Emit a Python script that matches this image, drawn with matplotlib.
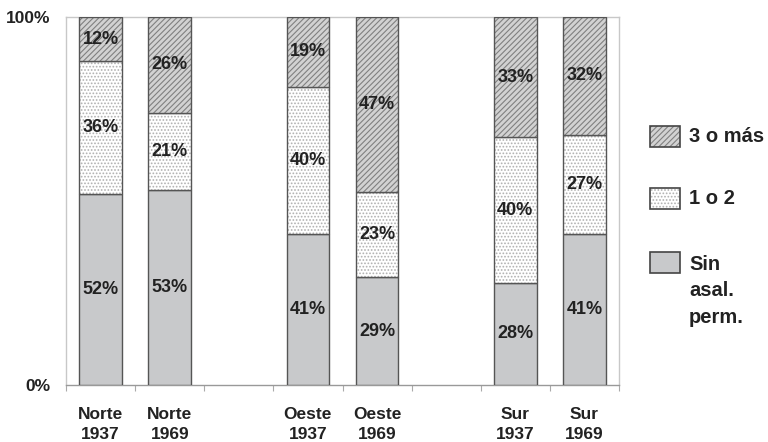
import numpy as np
import matplotlib
matplotlib.use("Agg")
import matplotlib.pyplot as plt
from matplotlib.patches import Rectangle

plt.rcParams['font.family'] = ['Liberation Sans', 'DejaVu Sans']
plt.rcParams['hatch.linewidth'] = 0.8

categories = ["Norte\n1937", "Norte\n1969", "Oeste\n1937", "Oeste\n1969", "Sur\n1937", "Sur\n1969"]
slots = [0, 1, 3, 4, 6, 7]
sin_asal = [52, 53, 41, 29, 28, 41]
uno_dos = [36, 21, 40, 23, 40, 27]
tres_mas = [12, 26, 19, 47, 33, 32]
series_names = ["Sin\nasal.\nperm.", "1 o 2", "3 o más"]
ytick_labels = ["0%", "100%"]

vals = np.array([sin_asal, uno_dos, tres_mas], dtype=float)
shares = vals / vals.sum(axis=0)

fig = plt.figure(figsize=(7.68, 4.42), dpi=100)
ax = fig.add_axes([66/768, 57/442, (619-66)/768, (385-17)/442])

edge = "#555555"
styles = [
    dict(facecolor="#c8c9cb", hatch=None, hc=None),
    dict(facecolor="white", hatch=".....", hc="#b0b0b0"),
    dict(facecolor="#d2d2d2", hatch="//////", hc="#808080"),
]
x = np.array(slots, dtype=float)
bottom = np.zeros(len(slots))
width = 0.62
for i in range(3):
    st = styles[i]
    bars = ax.bar(x, shares[i], width, bottom=bottom, facecolor=st["facecolor"],
                  edgecolor=edge, linewidth=1.0, hatch=st["hatch"], zorder=3)
    if st["hatch"]:
        for b in bars:
            b._hatch_color = matplotlib.colors.to_rgba(st["hc"])
    for j in range(len(slots)):
        ax.text(x[j], bottom[j] + shares[i][j] / 2, f"{int(vals[i][j])}%",
                ha="center", va="center", fontsize=13, fontweight="bold",
                color="#222222", zorder=5)
    bottom += shares[i]

ax.set_xlim(-0.5, 7.5)
ax.set_ylim(0, 1)
ax.set_yticks([0, 1])
ax.set_yticklabels(ytick_labels, fontsize=12.5, fontweight="bold", color="#222222")
ax.tick_params(axis="y", length=0, pad=11)
ax.set_xticks(np.arange(-0.5, 8.0, 1.0), minor=True)
ax.set_xticks(x)
ax.set_xticklabels(categories, fontsize=12.5, fontweight="bold", color="#222222", linespacing=1.4)
ax.tick_params(axis="x", which="major", length=0, pad=16)
ax.tick_params(axis="x", which="minor", length=4, color="#aaaaaa", width=0.8)

for s in ["left", "right", "top"]:
    ax.spines[s].set_color("#c8c8c8")
    ax.spines[s].set_linewidth(1.0)
ax.spines["bottom"].set_color("#999999")
ax.spines["bottom"].set_linewidth(1.0)

# manual legend
leg_items = [(2, 126), (1, 188), (0, 252)]
for idx, ytop in leg_items:
    st = styles[idx]
    r = Rectangle((650/768, 1 - (ytop + 21)/442), 30/768, 21/442,
                  transform=fig.transFigure, facecolor=st["facecolor"],
                  edgecolor="#444444", linewidth=1.2, hatch=st["hatch"])
    if st["hatch"]:
        r._hatch_color = matplotlib.colors.to_rgba(st["hc"])
    fig.add_artist(r)
    if idx != 0:
        fig.text(689/768, 1 - (ytop + 10.5)/442, series_names[idx], ha="left",
                 va="center", fontsize=14.5, fontweight="bold", color="#222222")
    else:
        fig.text(689/768, 1 - (ytop + 3)/442, series_names[idx], ha="left", va="top",
                 fontsize=14.5, fontweight="bold", color="#222222", linespacing=1.5)

fig.savefig("out.png", dpi=100)
